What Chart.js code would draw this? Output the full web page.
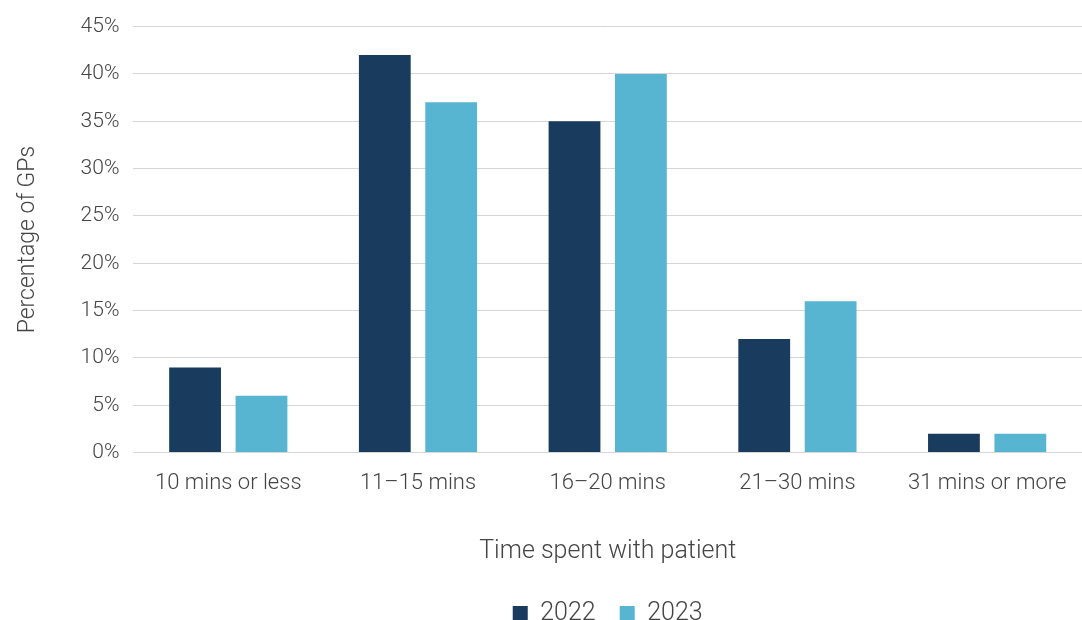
<!DOCTYPE html>
<html>
<head>
<meta charset="utf-8">
<script src="https://cdn.jsdelivr.net/npm/chart.js@4/dist/chart.umd.min.js"></script>
<style>
  html, body { margin: 0; padding: 0; background: #fff; }
  #wrap { width: 1082px; height: 620px; }
</style>
</head>
<body>
<div id="wrap"><canvas id="grafico"></canvas></div>
<script>
// Dados do gráfico
const categorias = ['10 mins or less', '11\u201315 mins', '16\u201320 mins', '21\u201330 mins', '31 mins or more'];
const valores2022 = [9, 42, 35, 12, 2];
const valores2023 = [6, 37, 40, 16, 2];
const anos = ['2022', '2023'];
const cores = ['#183b5e', '#57b5d1'];

const fonte = 'Roboto, "Noto Sans", sans-serif';

// Centraliza a legenda sobre a área do gráfico
const legendaNaArea = {
  id: 'legendaNaArea',
  beforeDraw(chart) {
    chart.legend.left = chart.chartArea.left;
    chart.legend.right = chart.chartArea.right;
  }
};

const ctx = document.getElementById('grafico').getContext('2d');
new Chart(ctx, {
  type: 'bar',
  data: {
    labels: categorias,
    datasets: [
      { label: anos[0], data: valores2022, backgroundColor: cores[0] },
      { label: anos[1], data: valores2023, backgroundColor: cores[1] }
    ]
  },
  plugins: [legendaNaArea],
  options: {
    responsive: true,
    maintainAspectRatio: false,
    animation: false,
    categoryPercentage: 0.7,
    barPercentage: 0.78,
    layout: { padding: { top: 1, right: 0, bottom: -16, left: 10 } },
    plugins: {
      legend: {
        position: 'bottom',
        labels: {
          boxWidth: 15,
          boxHeight: 15,
          padding: 24,
          color: '#444',
          font: { family: fonte, size: 25, weight: '300' }
        }
      },
      tooltip: { enabled: false }
    },
    scales: {
      x: {
        grid: { display: false },
        border: { display: false },
        ticks: {
          color: '#444',
          padding: 10,
          font: { family: fonte, size: 22, weight: '300' }
        },
        title: {
          display: true,
          text: 'Time spent with patient',
          color: '#444',
          padding: { top: 30, bottom: 10 },
          font: { family: fonte, size: 25, weight: '300' }
        }
      },
      y: {
        min: 0,
        max: 45,
        grid: { color: '#d6d6d6', drawTicks: false },
        border: { display: false },
        ticks: {
          stepSize: 5,
          padding: 14,
          color: '#444',
          font: { family: fonte, size: 21, weight: '300' },
          callback: v => v + '%'
        },
        title: {
          display: true,
          text: 'Percentage of GPs',
          color: '#444',
          padding: { bottom: 25 },
          font: { family: fonte, size: 23, weight: '300' }
        }
      }
    }
  }
});
</script>
</body>
</html>
